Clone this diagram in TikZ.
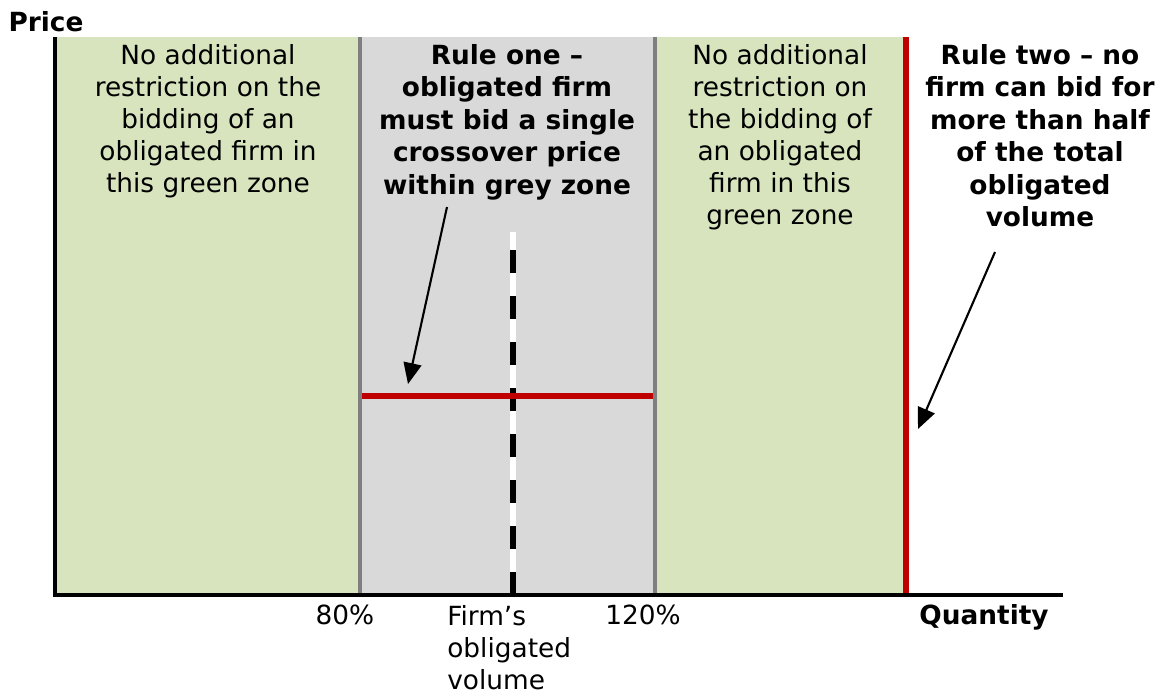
\documentclass[tikz,border=0pt]{standalone}
\usepackage{fontspec}
\setmainfont{DejaVu Sans}
\usetikzlibrary{arrows.meta}
\definecolor{cverde}{HTML}{D7E4BD}
\definecolor{cgris}{HTML}{D9D9D9}
\definecolor{cgrisb}{HTML}{7F7F7F}
\definecolor{crojo}{HTML}{C00000}
\tikzset{
  zonav/.style={fill=cverde,draw=none},
  zonag/.style={fill=cgris,draw=none},
  borde/.style={draw=cgrisb,line width=1.8pt},
  limite/.style={draw=crojo,line width=3pt},
  eje/.style={draw=black,line width=2.2pt},
  flecha/.style={-{Triangle[length=4.2mm,width=3.6mm]},draw=black,line width=1.2pt},
  et/.style={font=\fontsize{15}{18.2}\selectfont,inner sep=0pt,align=center},
  etb/.style={et,font=\fontsize{15}{18.5}\selectfont\bfseries},
}
\begin{document}
\begin{tikzpicture}[x=0.02cm,y=-0.02cm]
\useasboundingbox (0,0) rectangle (1161,691);

% zonas de oferta
\fill[zonav] (55,37) rectangle (360,595);
\fill[zonag] (360,37) rectangle (655,595);
\fill[zonav] (655,37) rectangle (906,595);
\draw[borde] (360,37) -- (360,595);
\draw[borde] (655,37) -- (655,595);
\draw[limite] (906,37) -- (906,595);

% volumen obligado de la empresa
\coordinate (vtop) at (513,232);
\coordinate (vbot) at (513,595);
\draw[white,line width=3.2pt] (vbot) -- (vtop);
\draw[black,line width=3.2pt,dash pattern=on 0.46cm off 0.46cm] (vbot) -- (vtop);

% precio unico de cruce
\coordinate (pizq) at (362,396);
\coordinate (pder) at (653,396);
\draw[limite] (pizq) -- (pder);

% ejes
\coordinate (origen) at (55,595);
\coordinate (ytop) at (55,37);
\coordinate (xfin) at (1063,595);
\draw[eje] (ytop) -- (origen) -- (xfin);

\node[etb,anchor=base] (precio) at (46,31) {Price};
\node[etb,anchor=base] (cantidad) at (984,624) {Quantity};
\node[et,anchor=base] (p80) at (345,624) {80\%};
\node[et,anchor=base] (p120) at (643,624) {120\%};
\node[et,anchor=north west,align=left] (vol) at (447,605)
  {Firm’s\\obligated\\volume};

\node[et,anchor=north] (verde1) at (208,44)
  {No additional\\restriction on the\\bidding of an\\obligated firm in\\this green zone};
\node[etb,anchor=north] (regla1) at (507,44)
  {Rule one –\\obligated firm\\must bid a single\\crossover price\\within grey zone};
\node[et,anchor=north] (verde2) at (780,44)
  {No additional\\restriction on\\the bidding of\\an obligated\\firm in this\\green zone};
\node[etb,anchor=north] (regla2) at (1040,44)
  {Rule two – no\\firm can bid for\\more than half\\of the total\\obligated\\volume};

\coordinate (f1a) at (447,207);
\coordinate (f1b) at (408,384);
\coordinate (f2a) at (995,252);
\coordinate (f2b) at (918,429);
\draw[flecha] (f1a) -- (f1b);
\draw[flecha] (f2a) -- (f2b);

\end{tikzpicture}
\end{document}
